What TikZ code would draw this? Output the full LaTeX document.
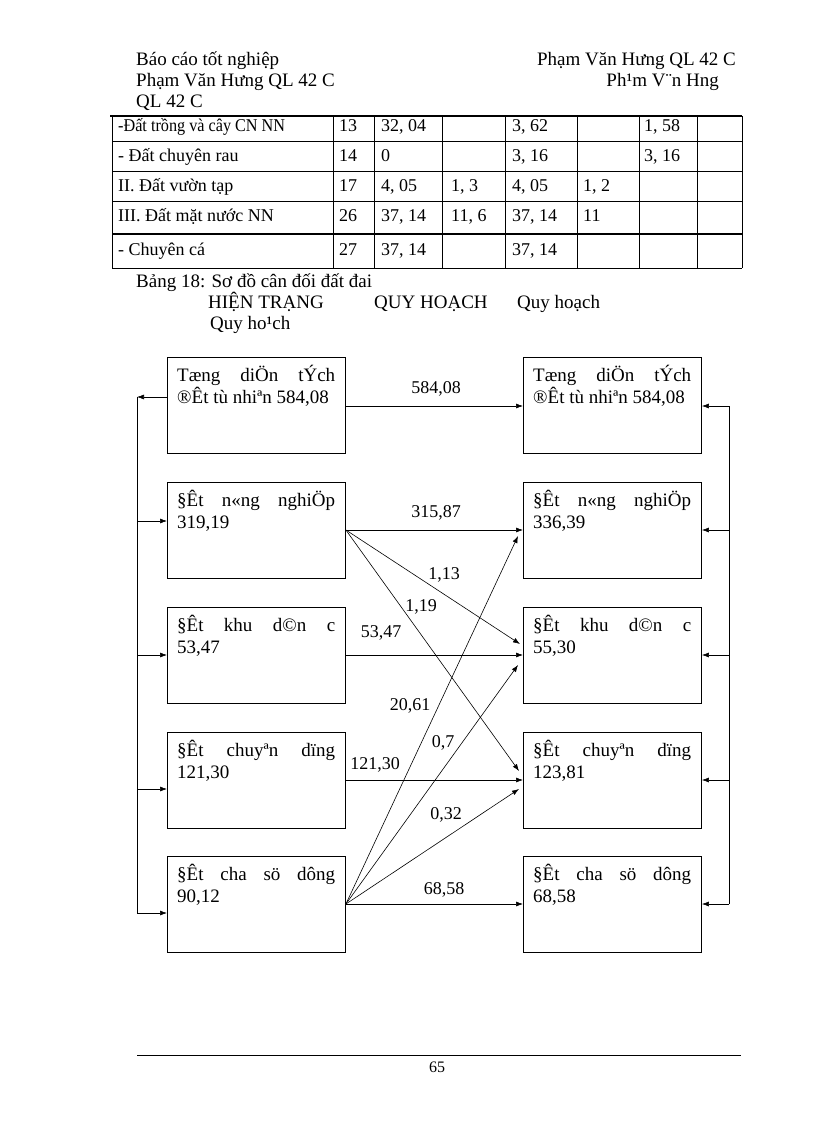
\documentclass[tikz,border=0pt]{standalone}
\usepackage{fontspec}
\setmainfont{Liberation Serif}
\usetikzlibrary{arrows.meta}
\begin{document}
\begin{tikzpicture}[x=1pt,y=-1pt,
  box/.style={draw, line width=0.9pt, minimum width=178pt, minimum height=96pt, inner sep=0pt, anchor=north west},
  btxt/.style={anchor=north west, inner sep=0pt, font=\fontsize{19}{21.5}\selectfont, align=left},
  arr/.style={-{Latex[length=7pt,width=5pt]}, line width=0.6pt},
  ln/.style={line width=0.6pt},
  lbl/.style={font=\fontsize{18}{22}\selectfont, inner sep=0pt},
  hd/.style={font=\fontsize{19}{21}\selectfont, inner sep=0pt, anchor=base west},
  hdr/.style={font=\fontsize{19}{21}\selectfont, inner sep=0pt, anchor=base east},
  tb/.style={font=\fontsize{18}{20}\selectfont, inner sep=0pt, anchor=base west},
  grid/.style={line width=0.6pt},
]
\useasboundingbox[fill=white] (0,0) rectangle (816,1123);

% ---------- header ----------
\node[hd] (h1) at (136,66) {Báo cáo tốt nghiệp};
\node[hdr] (h2) at (736,66) {Phạm Văn Hưng QL 42 C};
\node[hd] (h3) at (136,87) {Phạm Văn Hưng QL 42 C};
\node[hdr] (h4) at (719,87) {Ph¹m V¨n Hng};
\node[hd] (h5) at (136,108) {QL 42 C};

% ---------- table ----------
\draw[grid] (112,141) -- (742,141) (112,171) -- (742,171) (112,201) -- (742,201);
\draw[line width=2pt] (110,116) -- (742,116);
\draw[line width=2pt] (112,234) -- (742,234);
\draw[grid] (112,268) -- (742,268);
\foreach \cx in {112,333,374,442,505,577,639,697,742}
  \draw[grid] (\cx,116) -- (\cx,268);
\node[tb] (t1) at (118,132) {\scalebox{0.9}[1]{-Đất trồng và cây CN NN}};
\node[tb] (t2) at (118,162) {- Đất chuyên rau};
\node[tb] (t3) at (118,192) {II. Đất vườn tạp};
\node[tb] (t4) at (118,222) {III. Đất mặt nước NN};
\node[tb] (t5) at (118,255) {- Chuyên cá};
\node[tb] at (339,132) {13};
\node[tb] at (381,132) {32, 04};
\node[tb] at (512,132) {3, 62};
\node[tb] at (644,132) {1, 58};
\node[tb] at (339,162) {14};
\node[tb] at (381,162) {0};
\node[tb] at (512,162) {3, 16};
\node[tb] at (644,162) {3, 16};
\node[tb] at (339,192) {17};
\node[tb] at (381,192) {4, 05};
\node[tb] at (451,192) {1, 3};
\node[tb] at (512,192) {4, 05};
\node[tb] at (583,192) {1, 2};
\node[tb] at (339,222) {26};
\node[tb] at (381,222) {37, 14};
\node[tb] at (451,222) {11, 6};
\node[tb] at (512,222) {37, 14};
\node[tb] at (583,222) {11};
\node[tb] at (339,255) {27};
\node[tb] at (381,255) {37, 14};
\node[tb] at (512,255) {37, 14};

% ---------- title ----------
\node[hd] (ti) at (136,287) {Bảng 18: Sơ đồ cân đối đất đai};
\node[hd] (s1) at (208,308) {HIỆN TRẠNG};
\node[hd] (s2) at (374,308) {QUY HOẠCH};
\node[hd] (s3) at (517,308) {Quy hoạch};
\node[hd] (s4) at (210,329) {Quy ho¹ch};

% ---------- boxes ----------
\node[box] (L1) at (167,357) {};
\node[box] (L2) at (167,482) {};
\node[box] (L3) at (167,607) {};
\node[box] (L4) at (167,732) {};
\node[box] (L5) at (167,856) {};
\node[box] (R1) at (523,357) {};
\node[box] (R2) at (523,482) {};
\node[box] (R3) at (523,607) {};
\node[box] (R4) at (523,732) {};
\node[box] (R5) at (523,856) {};

\newcommand{\fl}[1]{\makebox[158pt][s]{#1}}
\foreach \b/\t in {
  L1/{\fl{Tæng diÖn tÝch}\\®Êt tù nhiªn 584,08},
  R1/{\fl{Tæng diÖn tÝch}\\®Êt tù nhiªn 584,08},
  L2/{\fl{§Êt n«ng nghiÖp}\\319,19},
  R2/{\fl{§Êt n«ng nghiÖp}\\336,39},
  L3/{\fl{§Êt khu d©n c}\\53,47},
  R3/{\fl{§Êt khu d©n c}\\55,30},
  L4/{\fl{§Êt chuyªn dïng}\\121,30},
  R4/{\fl{§Êt chuyªn dïng}\\123,81},
  L5/{\fl{§Êt cha sö dông}\\90,12},
  R5/{\fl{§Êt cha sö dông}\\68,58}}
  \node[btxt] at ([xshift=10pt,yshift=-8pt]\b.north west) {\t};

% ---------- side rails ----------
\coordinate (la) at (137,397);
\coordinate (lb) at (137,913);
\coordinate (ra) at (729,406);
\coordinate (rb) at (729,904);
\draw[ln] (la) -- (lb);
\draw[ln] (ra) -- (rb);
\draw[arr] (L1.west |- la) -- (la);
\draw[arr] (137,521) -- (L2.west |- 0,521);
\draw[arr] (137,655) -- (L3.west |- 0,655);
\draw[arr] (137,789) -- (L4.west |- 0,789);
\draw[arr] (lb) -- (L5.west |- lb);
\draw[arr] (ra) -- (R1.east |- ra);
\draw[arr] (729,530) -- (R2.east |- 0,530);
\draw[arr] (729,655) -- (R3.east |- 0,655);
\draw[arr] (729,780) -- (R4.east |- 0,780);
\draw[arr] (rb) -- (R5.east |- rb);

% ---------- flows ----------
\draw[arr] (L1.east |- 0,406) -- (R1.west |- 0,406);
\draw[arr] (L2.east |- 0,530) -- (R2.west |- 0,530);
\draw[arr] (L3.east |- 0,655) -- (R3.west |- 0,655);
\draw[arr] (L4.east |- 0,780) -- (R4.west |- 0,780);
\draw[arr] (L5.east |- 0,904) -- (R5.west |- 0,904);
\draw[arr] (L2.east |- 0,530) -- ([xshift=-3pt]R3.west |- 0,644);
\draw[arr] (L2.east |- 0,530) -- ([xshift=-4pt]R4.west |- 0,771);
\draw[arr] (L5.east |- 0,904) -- ([xshift=-5pt]R2.west |- 0,536);
\draw[arr] (L5.east |- 0,904) -- ([xshift=-5pt]R3.west |- 0,665);
\draw[arr] (L5.east |- 0,904) -- ([xshift=-4pt]R4.west |- 0,789);

\node[lbl] at (436,389) {584,08};
\node[lbl] at (436,513) {315,87};
\node[lbl] at (444,575) {1,13};
\node[lbl] at (421,607) {1,19};
\node[lbl] at (381,633) {53,47};
\node[lbl] at (410,706) {20,61};
\node[lbl] at (443,743) {0,7};
\node[lbl] at (375,765) {121,30};
\node[lbl] at (446,815) {0,32};
\node[lbl] at (444,890) {68,58};

% ---------- footer ----------
\draw[ln] (137,1055) -- (741,1055);
\node[lbl, font=\fontsize{16}{19}\selectfont] (pg) at (437,1067) {65};
\end{tikzpicture}
\end{document}
